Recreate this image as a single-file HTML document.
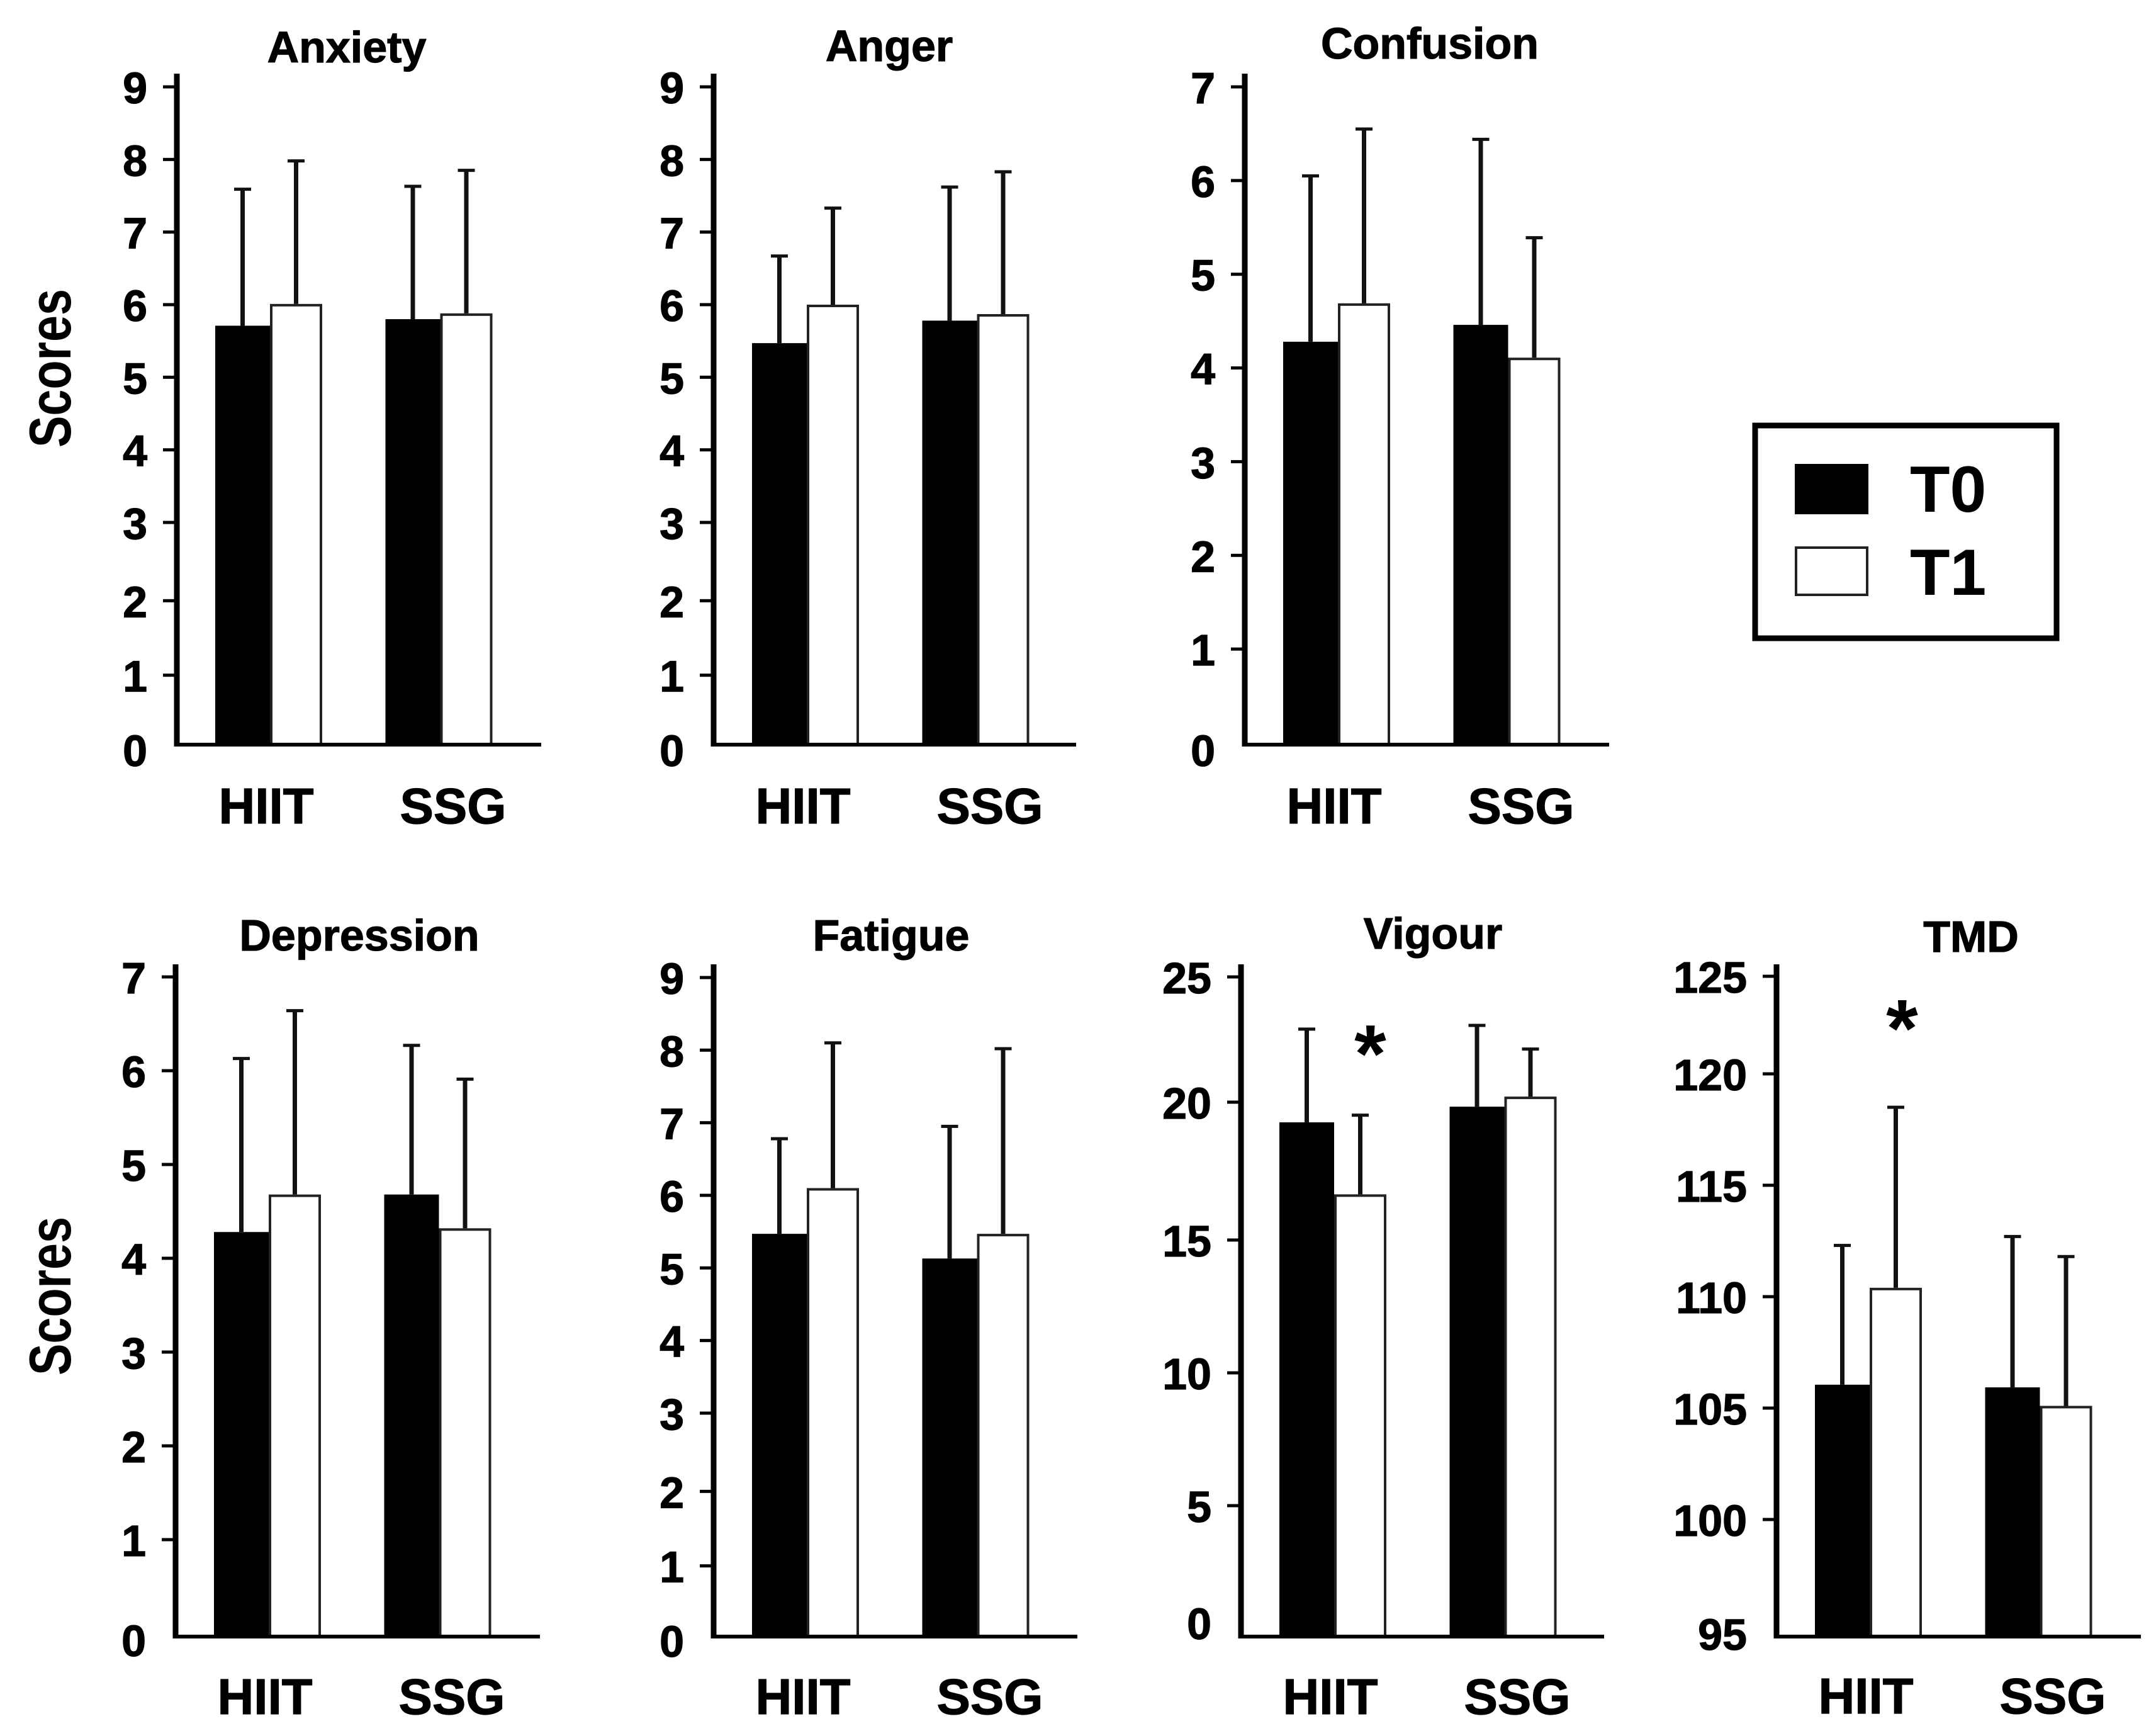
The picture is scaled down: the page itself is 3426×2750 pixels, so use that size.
<!DOCTYPE html>
<html lang="en">
<head>
<meta charset="utf-8">
<title>Mood scores by group</title>
<style>
html,body{margin:0;padding:0;background:#fff;}
svg{display:block;}
text{font-family:"Liberation Sans",Arial,sans-serif;font-weight:bold;fill:#000;}
.heavy{stroke:#000;stroke-width:1.2px;}
</style>
</head>
<body>
<svg id="figure" xmlns="http://www.w3.org/2000/svg" width="3426" height="2750" viewBox="0 0 3426 2750">
  <rect x="0" y="0" width="3426" height="2750" fill="#fff"/>
  <text x="112" y="585" font-size="94" text-anchor="middle" textLength="252" lengthAdjust="spacingAndGlyphs" transform="rotate(-90 112 585)">Scores</text>
  <text x="112" y="2059" font-size="94" text-anchor="middle" textLength="252" lengthAdjust="spacingAndGlyphs" transform="rotate(-90 112 2059)">Scores</text>
  <g>
    <rect x="2789" y="676" width="479" height="338" fill="#fff" stroke="#000" stroke-width="9"/>
    <rect x="2852" y="737" width="117" height="80" fill="#000"/>
    <text x="3035" y="813" font-size="104">T0</text>
    <rect x="2854" y="870" width="113" height="75" fill="#fff" stroke="#222" stroke-width="4"/>
    <text x="3035" y="945" font-size="104">T1</text>
  </g>
</svg>
<script>
const panelTitles = ["Anxiety","Anger","Confusion","Depression","Fatigue","Vigour","TMD"];
const categories = ["HIIT","SSG"];
const t0Means = [[5.71,5.8],[5.47,5.78],[4.28,4.46],[4.28,4.68],[5.47,5.13],[19.43,20.02],[106.05,105.93]];
const t1Means = [[6.01,5.88],[6.0,5.87],[4.69,4.11],[4.68,4.32],[6.1,5.47],[16.72,20.4],[110.4,105.1]];
const t0Upper = [[7.59,7.63],[6.67,7.62],[6.05,6.44],[6.13,6.27],[6.78,6.95],[22.94,23.08],[112.3,112.7]];
const t1Upper = [[7.98,7.85],[7.33,7.83],[6.55,5.39],[6.64,5.91],[8.1,8.02],[19.7,22.19],[118.5,111.8]];
const tickLabels = [
  [0,1,2,3,4,5,6,7,8,9],
  [0,1,2,3,4,5,6,7,8,9],
  [0,1,2,3,4,5,6,7],
  [0,1,2,3,4,5,6,7],
  [0,1,2,3,4,5,6,7,8,9],
  [0,5,10,15,20,25],
  [95,100,105,110,115,120,125]
];
const significance = [null,null,null,null,null,{bar:0,value:22.4},{bar:0,value:122.5}];

/* panel placement on the page (not data); nudge = hand-drawn tick irregularity in the source figure */
const frames = [
  {left:281,base:1183,axisTop:117,top:138,zero:1176,right:860,titleX:551,titleY:99,catY:1308,nudge:{2:9,1:12,0:15}},
  {left:1134,base:1183,axisTop:117,top:138,zero:1176,right:1710,titleX:1413,titleY:97,catY:1308,nudge:{2:9,1:12,0:15}},
  {left:1978,base:1183,axisTop:117,top:138,zero:1180,right:2557,titleX:2272,titleY:93,catY:1308,nudge:{0:11}},
  {left:279,base:2600,axisTop:1532,top:1552,zero:2595,right:858,titleX:571,titleY:1510,catY:2723,nudge:{0:10}},
  {left:1134,base:2600,axisTop:1532,top:1553,zero:2591,right:1712,titleX:1416,titleY:1510,catY:2723,nudge:{2:9,1:12,0:15}},
  {left:1972,base:2600,axisTop:1532,top:1548,zero:2603,right:2549,titleX:2277,titleY:1507,catY:2723,starDx:15,nudge:{25:4,20:-8,0:-25}},
  {left:2823,base:2600,axisTop:1532,top:1529,zero:2591,right:3402,titleX:3132,titleY:1512,catY:2722,starDx:9,nudge:{125:22,95:4}}
];

const svg = document.getElementById('figure');
const NS = 'http://www.w3.org/2000/svg';

function make(tag, attrs, parent, content) {
  const el = document.createElementNS(NS, tag);
  for (const k in attrs) el.setAttribute(k, attrs[k]);
  if (content !== undefined) el.textContent = content;
  parent.appendChild(el);
  return el;
}

panelTitles.forEach(function (title, p) {
  const f = frames[p];
  const ticks = tickLabels[p];
  const lo = ticks[0];
  const hi = ticks[ticks.length - 1];
  const yScale = function (v) { return f.zero - (v - lo) / (hi - lo) * (f.zero - f.top); };
  const slug = title.toLowerCase();

  const g = make('g', {}, svg);
  
  

  const heading = make('text', {x: f.titleX, y: f.titleY, 'font-size': 70, 'text-anchor': 'middle', 'class': 'heavy'}, g, title);
  
  

  ticks.forEach(function (t) {
    const y = yScale(t) + (f.nudge[t] || 0);
    if (t !== lo) {
      const mark = make('rect', {x: f.left - 22, y: y - 2.5, width: 22, height: 5, fill: '#000'}, g);
      
      
    }
    const label = make('text', {x: f.left - 47, y: y + 26, 'font-size': 70, 'text-anchor': 'end', 'class': 'heavy'}, g, String(t));
    
    
  });

  categories.forEach(function (cat, c) {
    const start = f.left + (c === 0 ? 61 : 331.5);
    const t0 = {x: start, w: 87};
    const t1 = {x: start + 87, w: 83};
    const bars = [
      {name: 't0', geo: t0, mean: t0Means[p][c], upper: t0Upper[p][c]},
      {name: 't1', geo: t1, mean: t1Means[p][c], upper: t1Upper[p][c]}
    ];
    bars.forEach(function (b) {
      const cx = b.geo.x + b.geo.w / 2;
      const topY = yScale(b.upper);
      const barY = yScale(b.mean);
      const stem = make('rect', {x: cx - 3.5, y: topY, width: 7, height: barY - topY, fill: '#111'}, g);
      
      
      const cap = make('rect', {x: cx - 13.5, y: topY - 2.5, width: 27, height: 5, fill: '#111'}, g);
      
      
      let bar;
      if (b.name === 't0') {
        bar = make('rect', {x: b.geo.x, y: barY, width: b.geo.w, height: f.base - barY, fill: '#000'}, g);
      } else {
        bar = make('rect', {x: b.geo.x + 2, y: barY + 2, width: b.geo.w - 4, height: f.base - barY - 2, fill: '#fff', stroke: '#222', 'stroke-width': 4}, g);
      }
      
      
    });
    const catLabel = make('text', {x: f.left + (c === 0 ? 142 : 439), y: f.catY, 'font-size': 80, 'text-anchor': 'middle', 'class': 'heavy'}, g, cat);
    
    
  });

  const yAxis = make('rect', {x: f.left - 4.5, y: f.axisTop, width: 9, height: f.base - f.axisTop + 3, fill: '#000'}, g);
  
  
  const xAxis = make('rect', {x: f.left - 4.5, y: f.base - 3, width: f.right - f.left + 4.5, height: 6, fill: '#000'}, g);
  
  

  const sig = significance[p];
  if (sig) {
    const sx = f.left + 62 + 87 + 41.5 + f.starDx;
    const star = make('text', {x: sx, y: yScale(sig.value) + 61, 'font-size': 130, 'text-anchor': 'middle'}, g, '*');
    
    
  }
});
</script>
</body>
</html>
